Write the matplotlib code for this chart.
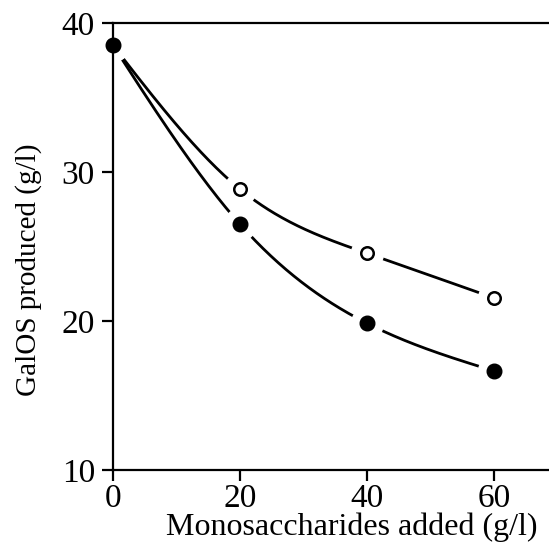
import numpy as np
import matplotlib
matplotlib.use("Agg")
import matplotlib.pyplot as plt

# Data
x_added = [0, 20, 40, 60]
galos_filled = [38.5, 26.5, 19.85, 16.65]
galos_open = [38.5, 28.85, 24.55, 21.55]
x_ticks = [0, 20, 40, 60]
y_ticks = [10, 20, 30, 40]
x_label = "Monosaccharides added (g/l)"
y_label = "GalOS produced (g/l)"


def natural_spline(x, y, n=300):
    x = np.asarray(x, float)
    y = np.asarray(y, float)
    m = len(x)
    h = np.diff(x)
    A = np.zeros((m, m))
    b = np.zeros(m)
    A[0, 0] = 1
    A[-1, -1] = 1
    for i in range(1, m - 1):
        A[i, i - 1] = h[i - 1]
        A[i, i] = 2 * (h[i - 1] + h[i])
        A[i, i + 1] = h[i]
        b[i] = 6 * ((y[i + 1] - y[i]) / h[i] - (y[i] - y[i - 1]) / h[i - 1])
    M = np.linalg.solve(A, b)
    xs = np.linspace(x[0], x[-1], n)
    ys = np.empty_like(xs)
    for k, xv in enumerate(xs):
        i = min(np.searchsorted(x, xv, side="right") - 1, m - 2)
        t0 = x[i + 1] - xv
        t1 = xv - x[i]
        ys[k] = (M[i] * t0 ** 3 + M[i + 1] * t1 ** 3) / (6 * h[i]) \
            + (y[i] / h[i] - M[i] * h[i] / 6) * t0 \
            + (y[i + 1] / h[i] - M[i + 1] * h[i] / 6) * t1
    return xs, ys


plt.rcParams["font.family"] = ["Liberation Serif", "DejaVu Serif"]

fig = plt.figure(figsize=(5.49, 5.47), dpi=100)
ax = fig.add_axes([0.2058, 0.1408, 0.7942, 0.8172])

for ys in (galos_filled, galos_open):
    xs_s, ys_s = natural_spline(x_added, ys)
    ax.plot(xs_s, ys_s, color="black", lw=2.0, zorder=2, clip_on=False,
            solid_capstyle="butt")
    # white halos to create gaps around markers
    ax.plot(x_added, ys, ls="none", marker="o", ms=24, mfc="white",
            mec="none", zorder=2.5, clip_on=False)

ax.plot(x_added, galos_open, ls="none", marker="o", ms=9, mfc="white",
        mec="black", mew=1.8, zorder=3, clip_on=False)
ax.plot(x_added, galos_filled, ls="none", marker="o", ms=10.5, mfc="black",
        mec="black", zorder=3.1, clip_on=False)

ax.set_xlim(0, 68.7)
ax.set_ylim(10, 40)
ax.set_xticks(x_ticks)
ax.set_yticks(y_ticks)
ax.tick_params(axis="both", direction="out", length=8, width=1.6,
               labelsize=24, color="black")
ax.tick_params(axis="x", pad=2)
ax.tick_params(axis="y", pad=5)

for side in ("left", "bottom", "top"):
    ax.spines[side].set_linewidth(1.6)
    ax.spines[side].set_zorder(2.7)
ax.spines["right"].set_visible(False)

ax.set_xlabel(x_label, fontsize=23)
ax.xaxis.set_label_coords(0.548, -0.095, transform=ax.transAxes)
ax.set_ylabel(y_label, fontsize=21)
ax.yaxis.set_label_coords(-0.163, 0.447, transform=ax.transAxes)

fig.savefig("out.png", dpi=100)
